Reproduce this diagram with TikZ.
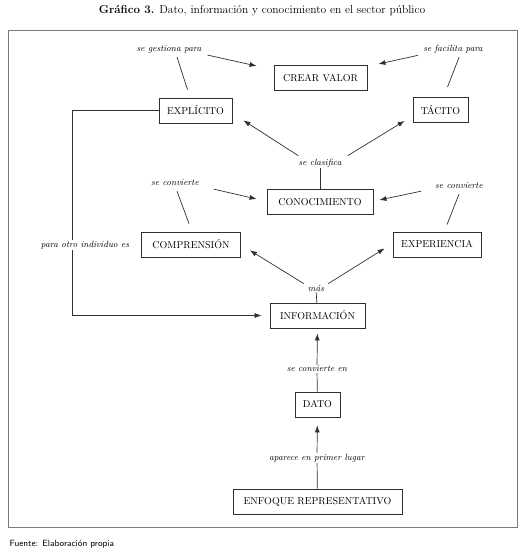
\documentclass[tikz,border=0pt]{standalone}
\usepackage{tikz}
\usetikzlibrary{arrows.meta,positioning}
\definecolor{ink}{HTML}{303030}
\definecolor{frm}{HTML}{7A7A7A}
\tikzset{
  >={Latex[length=7pt,width=5pt]},
  box/.style={draw=ink,line width=0.8pt,minimum height=25pt,inner sep=2pt,font=\fontsize{10}{12}\selectfont,fill=white},
  lab/.style={font=\fontsize{9}{11}\selectfont\itshape,inner sep=1pt},
  arr/.style={->,draw=ink,line width=0.7pt},
  ln/.style={draw=ink,line width=0.7pt},
}
\begin{document}
\begin{tikzpicture}[x=1pt,y=1pt]
\useasboundingbox (0,0) rectangle (528,555);
\node (title) at (262,544) {\fontsize{11.5}{14}\selectfont\textbf{Gráfico 3.} Dato, información y conocimiento en el sector público};
\draw[frm,line width=1pt] (8,27) rectangle (517,524);
% boxes
\node[box,minimum width=93pt] (crear) at (320.5,477) {CREAR VALOR};
\node[box,minimum width=73pt] (expl) at (195.5,444.5) {EXPLÍCITO};
\node[box,minimum width=55pt] (tac) at (440.5,445) {TÁCITO};
\node[box,minimum width=106pt] (con) at (320,353) {CONOCIMIENTO};
\node[box,minimum width=99pt] (comp) at (191,310.5) {COMPRENSIÓN};
\node[box,minimum width=88pt] (exp) at (437,310.5) {EXPERIENCIA};
\node[box,minimum width=95pt] (info) at (317.5,239.5) {INFORMACIÓN};
\node[box,minimum width=45pt] (dato) at (317.5,150.5) {DATO};
\node[box,minimum width=169pt] (enf) at (317.5,53.5) {ENFOQUE REPRESENTATIVO};
% labels
\node[lab] (gest) at (169,506) {se gestiona para};
\node[lab] (facil) at (453,506) {se facilita para};
\node[lab] (clas) at (320,392) {se clasifica};
\node[lab] (conv1) at (175,372) {se convierte};
\node[lab] (conv2) at (459,369) {se convierte};
\node[lab] (mas) at (316,267) {más};
\node[lab] (conven) at (317,186) {se convierte en};
\node[lab] (primer) at (317,97) {aparece en primer lugar};
% connectors
\draw[ln] ([xshift=-8pt,yshift=8pt]expl.north) -- ([xshift=8pt,yshift=-3pt]gest.south);
\draw[arr] ([xshift=5pt,yshift=-1pt]gest.south east) -- ([xshift=-17pt,yshift=12pt]crear.west);
\draw[ln] ([xshift=7pt,yshift=10pt]tac.north) -- ([xshift=6pt,yshift=-3pt]facil.south);
\draw[arr] ([xshift=-4pt,yshift=-1pt]facil.south west) -- ([xshift=11pt,yshift=14pt]crear.east);
\draw[ln] (con) -- (clas);
\draw[arr] ([xshift=1pt,yshift=2pt]clas.north west) -- ([xshift=11pt,yshift=3pt]expl.south east);
\draw[arr] ([xshift=5pt,yshift=2pt]clas.north east) -- ([xshift=-8pt,yshift=2pt]tac.south west);
\draw[ln] ([xshift=-2pt,yshift=8pt]comp.north) -- ([xshift=2pt,yshift=-4pt]conv1.south);
\draw[arr] ([xshift=14pt,yshift=-2pt]conv1.south east) -- ([xshift=-10pt,yshift=3pt]con.west);
\draw[ln] ([xshift=10pt,yshift=7pt]exp.north) -- ([yshift=-4pt]conv2.south);
\draw[arr] ([xshift=-13pt,yshift=-1pt]conv2.south west) -- ([xshift=6pt,yshift=2pt]con.east);
\draw[ln] (info) -- (mas);
\draw[arr] ([xshift=-3pt]mas.north west) -- ([xshift=9pt,yshift=7pt]comp.south east);
\draw[arr] ([xshift=3pt]mas.north east) -- ([xshift=-8pt,yshift=9pt]exp.south west);
\draw[arr,shorten >=8pt] (expl.west) -- ++(-86,0) |- (info.west);
\node[lab,fill=white] (otro) at (85,310) {para otro individuo es};
\draw[arr,shorten >=5pt] (conven) -- (info);
\draw[ln] (dato) -- (conven);
\draw[arr,shorten >=8pt] (primer) -- (dato);
\draw[ln] (enf) -- (primer);
\node[anchor=west] (fuente) at (6,11) {\sffamily\fontsize{9}{11}\selectfont Fuente: Elaboración propia};
\end{tikzpicture}
\end{document}
